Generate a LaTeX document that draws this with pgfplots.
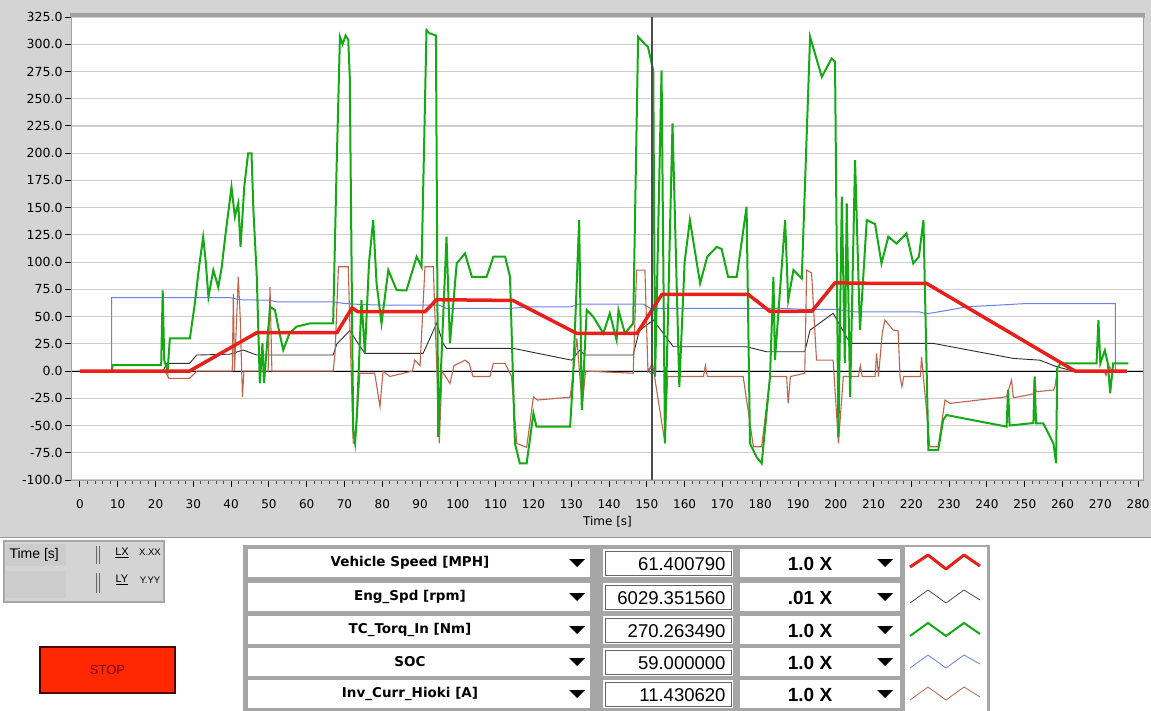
\documentclass[border=0pt]{standalone}
\usepackage{pgfplots}
\pgfplotsset{compat=1.18}
\usepackage{fontspec}
\setmainfont{DejaVu Sans}
\newfontfamily\arialf{Liberation Sans}
\definecolor{bgg}{RGB}{212,212,212}
\definecolor{gridc}{RGB}{205,205,205}
\definecolor{cred}{RGB}{232,32,26}
\definecolor{cgreen}{RGB}{20,170,20}
\definecolor{cblue}{RGB}{105,128,230}
\definecolor{cblack}{RGB}{45,45,45}
\definecolor{cbrown}{RGB}{190,100,78}
\definecolor{framec}{RGB}{160,160,160}
\definecolor{stopred}{RGB}{255,40,0}
\begin{document}
\begin{tikzpicture}
\useasboundingbox (0,0) rectangle (1151pt,710pt);
\fill[white] (0,0) rectangle (1151pt,710pt);
\fill[bgg] (0,172pt) rectangle (1151pt,710pt);
\fill[framec] (70pt,692pt) rectangle (1145pt,697pt);
\begin{axis}[
  at={(72pt,230pt)}, anchor=south west, scale only axis,
  width=1071pt, height=463pt,
  xmin=-2.1, xmax=281.3, ymin=-100, ymax=325,
  axis background/.style={fill=white},
  axis line style={draw=framec, line width=1pt},
  xtick={0,10,...,280}, minor x tick num=4,
  ytick={-100,-75,...,325},
  yticklabels={-100.0,-75.0,-50.0,-25.0,0.0,25.0,50.0,75.0,100.0,125.0,150.0,175.0,200.0,225.0,250.0,275.0,300.0,325.0},
  xtick pos=bottom, ytick pos=left, tick align=outside,
  major tick length=7pt, minor tick length=4pt,
  tick style={black, line width=0.9pt},
  minor tick style={black!70, line width=0.8pt},
  ymajorgrids, grid style={gridc, line width=1.2pt},
  /pgf/number format/assume math mode=true,
  x tick label style={font=\fontsize{12}{12}\selectfont, yshift=-9pt},
  y tick label style={font=\fontsize{12.5}{12.5}\selectfont, xshift=1pt},
  xlabel={Time [s]}, xlabel style={font=\fontsize{12}{12}\selectfont, yshift=-1pt},
  clip=true,
]
\addplot[black, line width=1pt] coordinates {(-2.1,0) (281.3,0)};
% SOC
\addplot[cblue, line width=1pt] table {
0 0
8.4 0
8.4 67.5
39.7 67.5
42 65.5
50 65
52 63.6
67 63.6
70 62
75 61
80 60.6
95 60.6
97 57.5
114 57.5
118 58.8
130 59
132 61.5
149 61.5
151 57.5
186 57.5
192 56.6
200 56.6
205 54.4
222 54.4
224 52.5
230 56
234.6 59
243.4 60.6
250.5 62
274 62
274 0
277 0
};
% Eng speed
\addplot[cblack, line width=0.9pt] table {
0 0
22 0
22.9 7
29 7
30.9 14.7
39.7 15.5
43.2 19.3
46.8 14.7
67 14.7
68 25
71.4 37
75.4 16.2
90.8 16.2
94.4 43.8
96.1 25.4
97 20.8
114.7 20.8
130.1 10
132.3 19.3
133.6 14.7
146.4 14.7
148 37
151.7 46.8
157 22.3
176.4 22.3
181.7 17.7
191.8 17.7
193.2 37.6
199.3 53
203.8 25.4
225.8 25.4
247 11.6
254 10
258.4 4
262.9 0
277 0
};
% Inv current
\addplot[cbrown, line width=1.1pt] table {
0 0
22.5 0
23.5 -6.7
29 -6.7
31 0
40.3 0
40.6 71
40.9 0
41.6 60
41.9 86.5
42.4 50
43 -23.6
43.4 0
49.8 0
50.3 77
50.8 0
67 0
67.5 16
68.4 95.7
71 95.7
72.3 -66
72.8 -66
74.1 -2
78 -2
79.4 -32.7
80.2 0
82 -5
88 0
88.6 10
90 5
91.3 95.7
93.5 95.7
95.1 -66.4
95.8 0
97.9 -11.3
99 5
101.9 10
103 7
104 -5
108.5 -5
109.4 7
112.5 7
114.2 -5
115.6 -66.4
118.2 -70
120 -23.6
121 -26.6
129.7 -24
130.5 -2
131.5 30
132.9 -32.7
133.8 0
146.4 -2
147.3 92.7
149.5 92.7
150.3 0
151.5 7
154.8 -66
155.5 -5
165 -5
165.5 5
166 -5
175.5 -5
178.2 -69.5
180.4 -69.5
182.6 -5
187 -5
187.4 -29.7
188 -5
191.8 -2
192.3 92.7
193.6 90
194.9 10
199.3 10
200.7 -66.4
202 -5
206 -5
206.5 5
207 -5
210.4 -5
210.8 16.2
211.3 -5
212.3 35
213 46.8
215.2 37.6
216.5 37
217 -5
217.5 -14.4
218 -5
222.4 -5
222.7 13
224.9 -69.5
227.1 -69.5
228.9 -26.6
230.2 -29.7
245.2 -23.6
246.5 -8.3
247 -24.5
252.3 -21
252.7 -5
253 -19
257.6 -17.4
258 -14.4
258.6 0
271 0
271.5 -4
272.5 4
273 0
277 0
};
% Torque
\addplot[cgreen, line width=2pt] table {
0 0
8.5 0
8.6 5.5
21.5 5.5
21.9 74
22.3 10
23.2 0
23.8 30
29.1 30
30.4 62
31.5 95
32.6 123
33.3 100
34 68
35.3 92.7
36.6 77
37.5 95
38.5 125
40.1 169
41 141.6
41.9 154
42.5 114
43.5 170
44.5 199.8
45.4 199.8
45.9 147.8
46.8 86.5
47.6 -11.3
48.3 25.7
48.7 -11
50.3 59
51.6 56
52.5 40
53.8 19.3
55.5 35
57.3 40.7
60.9 43.8
67 43.8
67.9 184.5
68.8 306.8
69.5 300
70.3 308
71 304
71.4 270
72.3 -54
72.8 -66
73.3 -40
74.5 65
75.4 16.2
76.5 100
77.6 138.6
78.5 80
79.8 43.8
81.6 92.7
83.8 74.3
86.4 74
89.1 105
90.4 95.7
91.7 313
92.5 310
94.2 308
94.8 -60.3
97 123.3
97.9 25.4
99.7 98.8
101.9 108
103.7 86.5
107.6 86.5
109.4 105
112.5 105
113.8 86.5
115.1 -66.4
116.4 -84.7
118.2 -84.7
120 -38.8
120.8 -51
129.7 -51
130.5 -5.2
132.1 138.6
132.8 -35.8
134.1 56
135.8 50
138.5 34.6
140.2 53
142 28.5
142.5 56
144.2 34.6
146.4 43.8
147.7 306.8
149.5 300
150.3 297.6
151.7 276
152.2 -5.2
153.9 276
154.8 -66.4
156.8 227.3
158.6 -14.4
160 100
161.4 138.6
164.1 80.5
166 105
168.5 114
169.8 112
171.5 86.5
173.8 86.5
176.4 150.8
177.3 -66.4
179 -78.7
180.4 -84.7
182.6 -5.2
183.5 86.5
183.9 10
186.6 138.6
187.4 65
188.8 92.7
191 85
193.2 306.8
196.3 270
198.9 287
199.8 284
200.7 -60.3
201.6 160
202.4 7.3
202.9 154
203.8 -23.6
205.1 193.7
206.4 37.6
208.2 138.6
210.4 135
212.1 98.8
213.9 123.3
216.1 117
218.7 126.4
220.5 98.8
222 105
223.2 138.6
224.5 -72.5
227.1 -72.5
228.4 -45
229.3 -40.4
245.2 -51
245.6 -17.4
246 -50
252.3 -47.7
252.6 -5.2
253 -48
254.9 -48
257.6 -66.4
258.3 -84.7
258.6 2.4
259.5 7
269 7
269.5 46.8
270 7
271.2 19
272 7
272.6 -20.5
273.4 7
277.4 7
};
% Vehicle speed
\addplot[cred, line width=3.5pt, line join=round] table {
0 0
29 0
46.8 35.2
68 35.2
72 58
73.5 54.5
91.3 54.5
94.4 65.5
114.6 64.8
131.5 34.5
147.4 34.5
154 70.4
176.8 70.4
182.6 54.7
193.7 55
199.8 81
210 80.5
224 80.5
263.3 0
277 0
};
\draw[black!70, line width=2pt] (axis cs:151.4,-100) -- (axis cs:151.4,325);
\addplot[only marks, mark=o, mark size=3pt, black!60, thick] coordinates {(151.4,0)};
\end{axis}
\begin{scope}[x=1pt,y=-1pt,shift={(0pt,710pt)}]
% left control cluster
\fill[black!35] (3,540) rectangle (165,603);
\fill[bgg] (5,542) rectangle (163,601);
\fill[black!20] (6,544) rectangle (66,566);
\fill[black!20] (6,571) rectangle (66,598);
\node[anchor=west, font=\arialf\fontsize{14}{14}\selectfont] at (6,555) {Time [s]};
\draw[black!60, line width=0.8pt] (96,546) -- (96,564) (99,546) -- (99,564) (96,573) -- (96,593) (99,573) -- (99,593);
\node[font=\arialf\fontsize{11}{11}\selectfont] at (122,553) {\underline{LX}};
\node[font=\arialf\fontsize{9.5}{9.5}\selectfont] at (150,552) {X.XX};
\node[font=\arialf\fontsize{11}{11}\selectfont] at (122,580) {\underline{LY}};
\node[font=\arialf\fontsize{9.5}{9.5}\selectfont] at (150,580) {Y.YY};
\fill[white] (0,603) rectangle (240,710);
% stop button
\fill[stopred] (40,647) rectangle (175,693);
\draw[black!70!red, line width=1.5pt] (40,647) rectangle (175,693);
\node[text=red!50!black, font=\arialf\fontsize{13}{13}\selectfont] at (107.5,670) {STOP};
% list backdrop
\fill[black!35] (243,545) rectangle (990,712);
\fill[white] (905,547) rectangle (987,712);
\foreach \c/\nm/\vl/\ml in {563/Vehicle Speed [MPH]/61.400790/1.0 X, 597/Eng\_Spd [rpm]/6029.351560/.01 X, 630/TC\_Torq\_In [Nm]/270.263490/1.0 X, 662/SOC/59.000000/1.0 X, 694/Inv\_Curr\_Hioki [A]/11.430620/1.0 X}{
  \fill[white] (248,\c-14) rectangle (590,\c+14);
  \fill[black] (569,\c-4) -- (585,\c-4) -- (577,\c+4) -- cycle;
  \node[font=\bfseries\fontsize{13.5}{13.5}\selectfont] at (410,\c) {\nm};
  \fill[white] (603,\c-14) rectangle (733,\c+14);
  \draw[black!60] (605,\c-12) rectangle (731,\c+12);
  \node[anchor=east, font=\arialf\fontsize{18.5}{18.5}\selectfont] at (729,\c+1) {\vl};
  \fill[white] (740,\c-14) rectangle (900,\c+14);
  \node[font=\arialf\bfseries\fontsize{19}{19}\selectfont] at (810,\c+1) {\ml};
  \fill[black] (877,\c-4) -- (893,\c-4) -- (885,\c+4) -- cycle;
}
\draw[cred, line width=3pt, line join=round] (910,567) -- (928,555) -- (946,569) -- (964,555) -- (980,566);
\draw[black!70, line width=0.8pt] (910,603) -- (928,590) -- (946,603) -- (964,590) -- (980,600);
\draw[cgreen, line width=2pt] (910,636) -- (928,623) -- (946,636) -- (964,623) -- (980,634);
\draw[cblue, line width=0.8pt] (910,668) -- (928,655) -- (946,668) -- (964,655) -- (980,664);
\draw[cbrown, line width=0.8pt] (910,700) -- (928,687) -- (946,700) -- (964,687) -- (980,697);
\draw[black!40, line width=1pt] (0,537) -- (1151,537);
\end{scope}
\end{tikzpicture}
\end{document}
